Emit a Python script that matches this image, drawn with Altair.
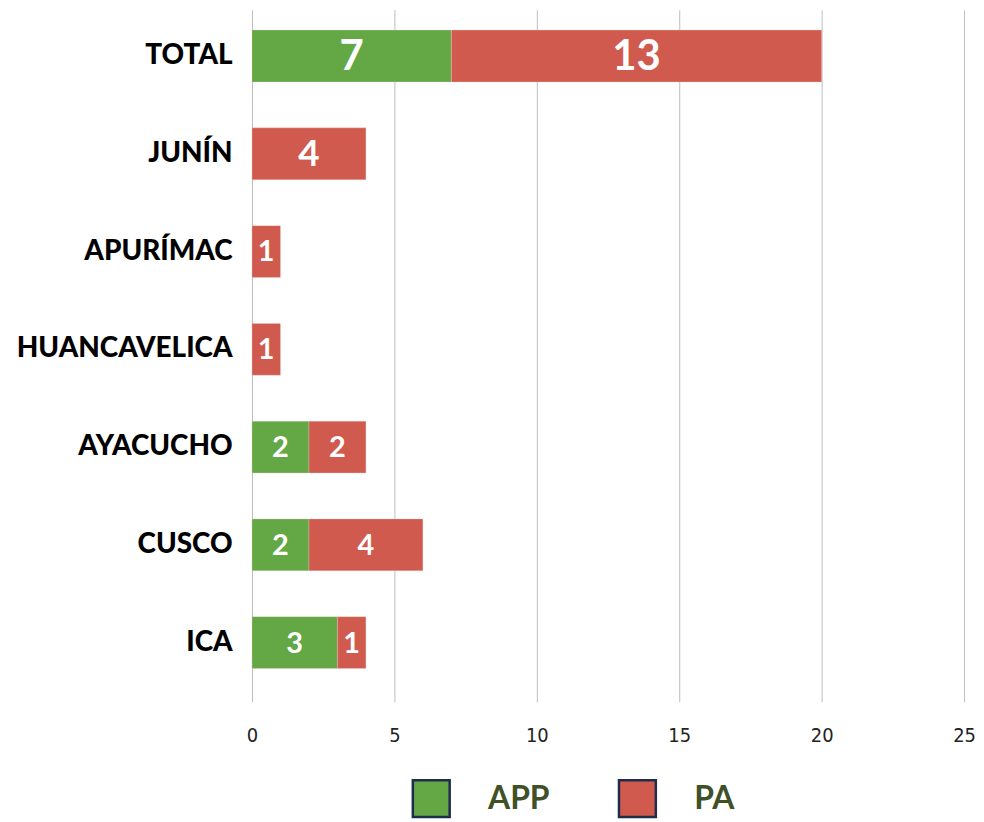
import altair as alt
import pandas as pd

regions = ["TOTAL", "JUNÍN", "APURÍMAC", "HUANCAVELICA", "AYACUCHO", "CUSCO", "ICA"]
app = [7, 0, 0, 0, 2, 2, 3]
pa = [13, 4, 1, 1, 2, 4, 1]
series = ["APP", "PA"]
colors = ["#64a745", "#d05a4e"]
x_ticks = [0, 5, 10, 15, 20, 25]

rows = []
for r, a, p in zip(regions, app, pa):
    rows.append({"region": r, "serie": "APP", "order": 0, "value": a})
    rows.append({"region": r, "serie": "PA", "order": 1, "value": p})
df = pd.DataFrame(rows)

yscale = alt.Scale(domain=regions, paddingInner=0.47, paddingOuter=0.275, align=0.38)
xscale = alt.Scale(domain=[0, 25], nice=False)

base = alt.Chart(df).transform_filter("datum.value > 0").transform_stack(
    stack="value", groupby=["region"], as_=["x0", "x1"],
    sort=[alt.SortField("order", order="ascending")]
)

bars = base.mark_bar(stroke="#f3d5d0", strokeWidth=0.5, strokeOpacity=0.6).encode(
    y=alt.Y("region:N", scale=yscale, sort=regions,
            axis=alt.Axis(title=None, domain=False, ticks=False, labelPadding=20,
                          labelFont="Lato", labelFontWeight=900, labelFontSize=28,
                          labelColor="#000000", minExtent=245, maxExtent=245,
                          labelLimit=300)),
    x=alt.X("x0:Q", scale=xscale,
            axis=alt.Axis(title=None, values=x_ticks, domain=False, ticks=False,
                          grid=True, gridColor="#bdbdbd", gridWidth=1,
                          labelFont="DejaVu Sans Condensed", labelFontSize=20,
                          labelColor="#222222", labelPadding=24, labelFlush=False)),
    x2="x1:Q",
    color=alt.Color("serie:N", scale=alt.Scale(domain=series, range=colors),
                    legend=alt.Legend(title=None, orient="none", direction="horizontal",
                                      legendX=160, legendY=772, symbolType="square",
                                      symbolSize=1369, symbolStrokeColor="#1f2d4d",
                                      symbolStrokeWidth=2.5, symbolOpacity=1,
                                      labelFont="Lato", labelFontWeight="bold",
                                      labelFontSize=32, labelColor="#405128",
                                      labelOffset=37, columnPadding=64, padding=0)),
)

size_rule = (alt.when(alt.datum.region == "TOTAL").then(alt.value(42))
             .when(alt.datum.region == "JUNÍN").then(alt.value(37))
             .otherwise(alt.value(29)))

labels = base.transform_calculate(mid="(datum.x0 + datum.x1) / 2").mark_text(
    color="white", font="Lato", fontWeight="bold", align="center", baseline="middle", dy=1
).encode(
    y=alt.Y("region:N", scale=yscale, sort=regions),
    x=alt.X("mid:Q", scale=xscale),
    text=alt.Text("value:Q"),
    size=size_rule,
)

chart = alt.layer(bars, labels).properties(width=715, height=695).configure(
    padding=0
).configure_view(stroke=None)

chart.save("out.html", embed_options={"renderer": "svg", "actions": False})
